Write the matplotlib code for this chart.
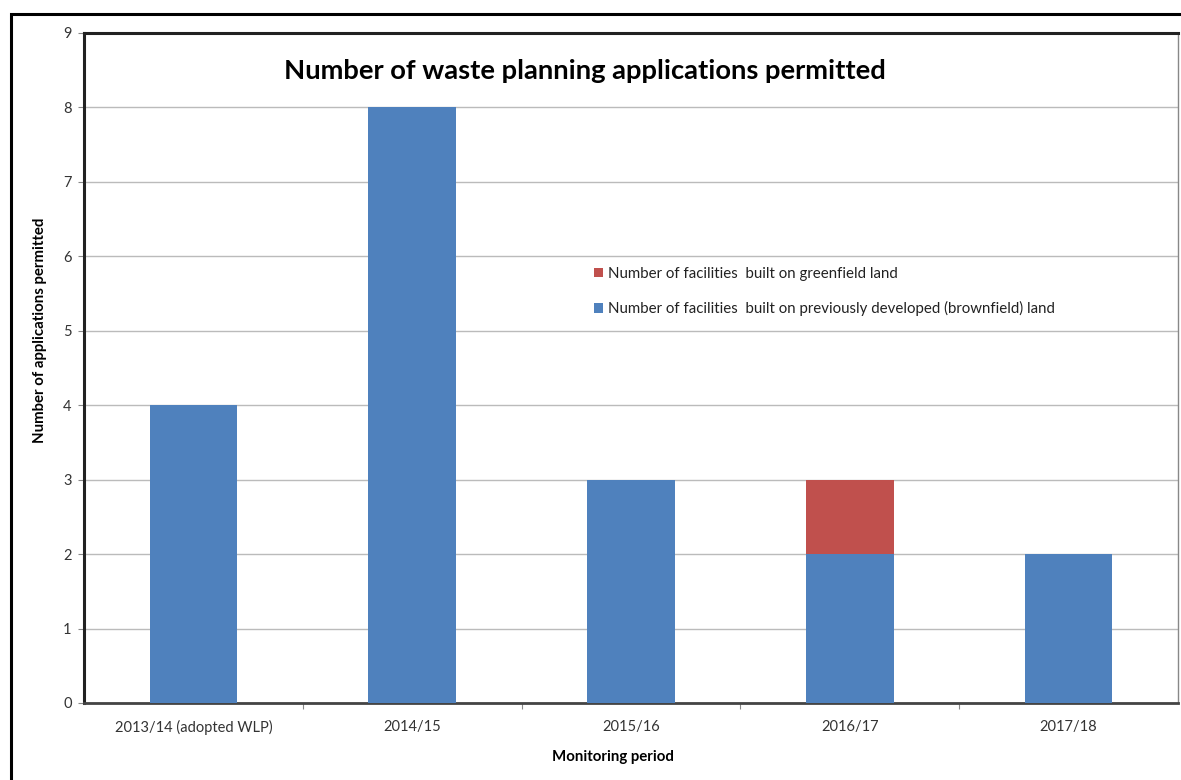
import matplotlib
matplotlib.use("Agg")
import matplotlib.pyplot as plt
from matplotlib.patches import Rectangle, Patch
import numpy as np

categories = ["2013/14 (adopted WLP)", "2014/15", "2015/16", "2016/17", "2017/18"]
brownfield = [4, 8, 3, 2, 2]
greenfield = [0, 0, 0, 1, 0]
yticks = list(range(0, 10))

title = "Number of waste planning applications permitted"
ylabel = "Number of applications permitted"
xlabel = "Monitoring period"
lab_green = "Number of facilities  built on greenfield land"
lab_brown = "Number of facilities  built on previously developed (brownfield) land"

BLUE = "#4F81BD"
RED = "#C0504D"

plt.rcParams['font.family'] = ['Lato', 'DejaVu Sans']

W, H = 1181, 780
fig = plt.figure(figsize=(W/100, H/100), dpi=100)

# outer border (partly cropped)
fig.patches.append(Rectangle((11/W, -0.1), 1.2, 1 - 14/H + 0.1, transform=fig.transFigure,
                             fill=False, edgecolor='black', linewidth=2.2, zorder=0))

ax = fig.add_axes([84/W, 1 - 703/H, (1178-84)/W, (703-33)/H])
x = np.arange(len(categories))
ax.bar(x, brownfield, width=0.4, color=BLUE, zorder=3, label=lab_brown)
ax.bar(x, greenfield, width=0.4, bottom=brownfield, color=RED, zorder=3, label=lab_green)

ax.set_xlim(-0.5, len(categories) - 0.5)
ax.set_ylim(0, 9)
ax.set_yticks(yticks)
ax.set_yticklabels([str(t) for t in yticks], fontsize=10.5, color='#333333')
ax.tick_params(axis='y', length=4, width=0.8, color='#888888', pad=5)
ax.set_xticks(x)
ax.set_xticklabels(categories, fontsize=10.5, color='#333333')
ax.set_xticks(np.arange(0.5, len(categories) - 0.5, 1), minor=True)
ax.tick_params(axis='x', which='major', length=0, pad=12)
ax.tick_params(axis='x', which='minor', length=4, width=0.8, color='#888888')

ax.yaxis.grid(True, color='#BBBBBB', linewidth=1, zorder=0)
ax.set_axisbelow(True)

for s in ['left', 'top']:
    ax.spines[s].set_linewidth(2.2)
    ax.spines[s].set_color('#222222')
ax.spines['bottom'].set_linewidth(2)
ax.spines['bottom'].set_color('#444444')
ax.spines['right'].set_linewidth(1)
ax.spines['right'].set_color('#888888')

fig.text(585/W, 1 - 71/H, title, fontsize=19.7, fontweight='bold', ha='center', va='center')
fig.text(40/W, 1 - 330/H, ylabel, fontsize=10.8, fontweight='bold', rotation=90, ha='center', va='center')
fig.text(613/W, 1 - 757/H, xlabel, fontsize=10.8, fontweight='bold', ha='center', va='center')

handles = [Patch(facecolor=RED), Patch(facecolor=BLUE)]
leg = ax.legend(handles, [lab_green, lab_brown], loc='upper left',
                bbox_to_anchor=(594/W, 1 - 267/H), bbox_transform=fig.transFigure,
                frameon=False, fontsize=10.8, handlelength=0.6, handleheight=0.6,
                handletextpad=0.35, labelspacing=1.35, borderpad=0, borderaxespad=0)
for t in leg.get_texts():
    t.set_color('#222222')

fig.savefig("out.png", dpi=100)
